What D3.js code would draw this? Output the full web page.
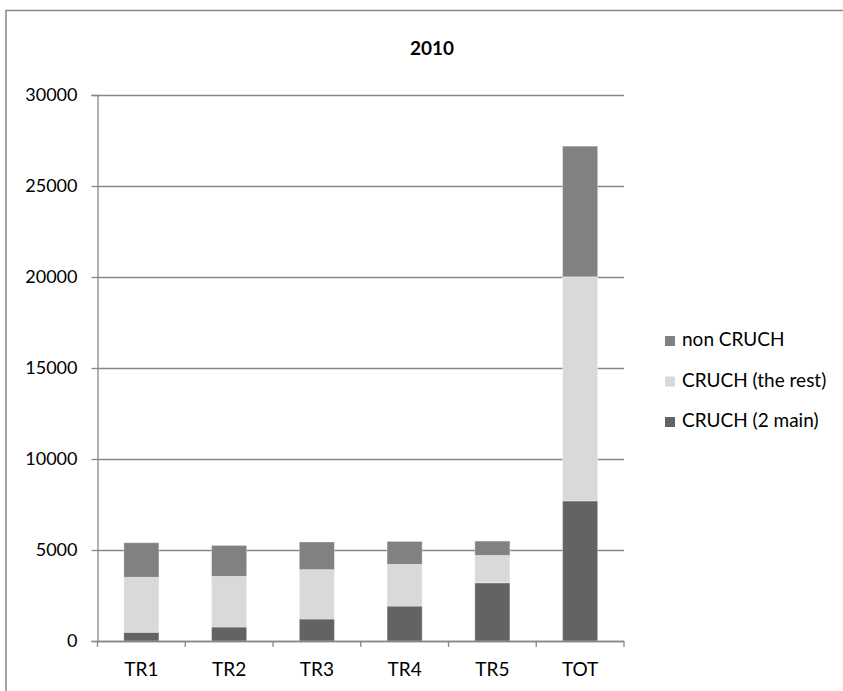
<!DOCTYPE html>
<html>
<head>
<meta charset="utf-8">
<script src="https://cdn.jsdelivr.net/npm/d3@7/dist/d3.min.js"></script>
<style>
  html, body { margin: 0; padding: 0; background: #fff; }
  svg { display: block; }
  text { font-family: Lato, "Open Sans", sans-serif; fill: #000; }
</style>
</head>
<body>
<svg id="chart" width="843" height="691"></svg>
<script>
// Categories and stacked series (bottom to top)
const categories = ["TR1", "TR2", "TR3", "TR4", "TR5", "TOT"];
const seriesNames = ["CRUCH (2 main)", "CRUCH (the rest)", "non CRUCH"];
const crushMain = [480, 770, 1210, 1920, 3200, 7700];
const crushRest = [3020, 2780, 2710, 2290, 1500, 12310];
const nonCrush  = [1900, 1700, 1520, 1260, 790, 7180];
const yTicks = [0, 5000, 10000, 15000, 20000, 25000, 30000];
const chartTitle = "2010";

const colors = {
  "CRUCH (2 main)": "#636363",
  "CRUCH (the rest)": "#d9d9d9",
  "non CRUCH": "#818181"
};

const rows = categories.map((c, i) => ({
  cat: c,
  "CRUCH (2 main)": crushMain[i],
  "CRUCH (the rest)": crushRest[i],
  "non CRUCH": nonCrush[i]
}));

const svg = d3.select("#chart");
const gridColor = "#878787";

// Outer chart frame (runs past the visible page)
svg.append("rect")
  .attr("x", 6).attr("y", 10.5)
  .attr("width", 900).attr("height", 800)
  .attr("fill", "#fff")
  .attr("stroke", gridColor).attr("stroke-width", 1.5);

const plot = { left: 97.5, right: 624, top: 95, bottom: 641 };

const x = d3.scaleBand()
  .domain(categories)
  .range([plot.left, plot.right])
  .paddingInner(0.6)
  .paddingOuter(0.3);

const y = d3.scaleLinear()
  .domain([0, 30000])
  .range([plot.bottom, plot.top]);

// Horizontal gridlines
svg.append("g")
  .selectAll("line")
  .data(yTicks)
  .join("line")
  .attr("x1", plot.left).attr("x2", plot.right)
  .attr("y1", d => Math.round(y(d)) + 0.5)
  .attr("y2", d => Math.round(y(d)) + 0.5)
  .attr("stroke", gridColor).attr("stroke-width", 1.3);

// Y axis
const yAxis = svg.append("g")
  .attr("transform", `translate(${plot.left},0)`)
  .call(d3.axisLeft(y).tickValues(yTicks).tickSize(6).tickPadding(14).tickFormat(d3.format("d")));
yAxis.select(".domain").attr("stroke", gridColor).attr("stroke-width", 1.3);
yAxis.selectAll(".tick line").attr("stroke", gridColor).attr("stroke-width", 1.3);
yAxis.selectAll(".tick text")
  .attr("font-size", 18)
  .style("font-family", "Lato, 'Open Sans', sans-serif")
  .attr("fill", "#000");

// Stacked bars
const stack = d3.stack().keys(seriesNames);
const layers = stack(rows);

svg.append("g")
  .selectAll("g")
  .data(layers)
  .join("g")
  .attr("fill", d => colors[d.key])
  .selectAll("rect")
  .data(d => d)
  .join("rect")
  .attr("x", d => x(d.data.cat))
  .attr("width", x.bandwidth())
  .attr("y", d => y(d[1]))
  .attr("height", d => y(d[0]) - y(d[1]))
  .attr("stroke", "rgba(255,255,255,0.35)")
  .attr("stroke-width", 1);

// X axis with ticks between categories
const boundaries = d3.range(categories.length + 1).map(i => plot.left + i * (plot.right - plot.left) / categories.length);
const xAxisG = svg.append("g");
xAxisG.append("line")
  .attr("x1", plot.left).attr("x2", plot.right)
  .attr("y1", plot.bottom + 0.5).attr("y2", plot.bottom + 0.5)
  .attr("stroke", gridColor).attr("stroke-width", 1.5);
xAxisG.selectAll("line.tk")
  .data(boundaries)
  .join("line")
  .attr("class", "tk")
  .attr("x1", d => d).attr("x2", d => d)
  .attr("y1", plot.bottom).attr("y2", plot.bottom + 6)
  .attr("stroke", gridColor).attr("stroke-width", 1.3);
xAxisG.selectAll("text")
  .data(categories)
  .join("text")
  .attr("x", d => x(d) + x.bandwidth() / 2)
  .attr("y", 676)
  .attr("text-anchor", "middle")
  .attr("font-size", 19)
  .text(d => d);

// Title
svg.append("text")
  .attr("x", 432).attr("y", 55)
  .attr("text-anchor", "middle")
  .attr("font-size", 19)
  .attr("font-weight", "bold")
  .text(chartTitle);

// Legend (top item is the top stack layer)
const legendItems = seriesNames.slice().reverse();
const legend = svg.append("g").attr("transform", "translate(665,336)");
const li = legend.selectAll("g")
  .data(legendItems)
  .join("g")
  .attr("transform", (d, i) => `translate(0,${i * 40.5})`);
li.append("rect")
  .attr("width", 10).attr("height", 10)
  .attr("fill", d => colors[d]);
li.append("text")
  .attr("x", 17).attr("y", 10)
  .attr("font-size", 19)
  .text(d => d);
</script>
</body>
</html>
